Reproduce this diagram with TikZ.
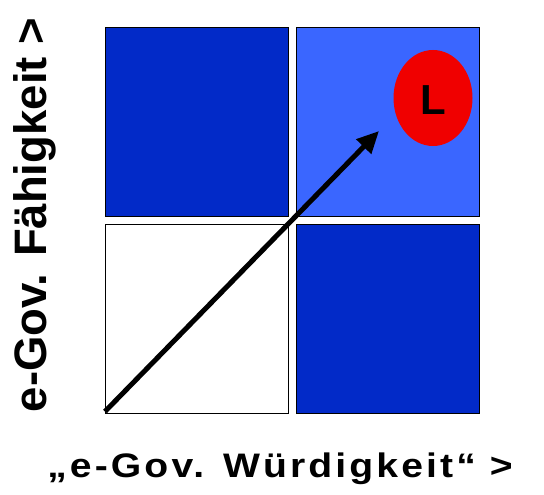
\documentclass[tikz,border=0pt]{standalone}
\usepackage{fontspec}
\setmainfont{Liberation Sans}
\newfontfamily\widesans[LetterSpace=8]{Liberation Sans}
\usetikzlibrary{arrows.meta,shapes.geometric}
\definecolor{darkblue}{RGB}{2,42,200}
\definecolor{lightblue}{RGB}{58,102,255}
\definecolor{redL}{RGB}{240,0,0}
\begin{document}
\begin{tikzpicture}[x=1pt,y=-1pt,
  cell/.style={draw=black,line width=1.3pt,minimum width=183pt,minimum height=189pt,inner sep=0pt,anchor=north west},
  lbl/.style={inner sep=0pt}]
\useasboundingbox (0,0) rectangle (544,495);
\node[cell,fill=darkblue] (tl) at (105,27) {};
\node[cell,fill=lightblue] (tr) at (296,27) {};
\node[cell,fill=white] (bl) at (105,223.5) {};
\node[cell,fill=darkblue] (br) at (296,223.5) {};
\node[ellipse,fill=redL,minimum width=79pt,minimum height=96pt,inner sep=0pt] (L) at (433,98) {};
\node[font=\bfseries\fontsize{42}{46}\selectfont,inner sep=0pt,anchor=base] (Ltext) at (433,114) {L};
\coordinate (start) at (105,411.5);
\coordinate (tip) at (379,131);
\draw[line width=5pt,-{Triangle[length=22pt,width=20pt]}] (start) -- (tip);
\node[lbl,anchor=base,xscale=1.15,font=\widesans\bfseries\fontsize{34}{38}\selectfont] (xlab) at (280,477) {„e-Gov. Würdigkeit“ >};
\node[lbl,anchor=base,rotate=90,font=\bfseries\fontsize{45.5}{50}\selectfont] (ylab) at (46,215) {e-Gov. Fähigkeit >};
\end{tikzpicture}
\end{document}
